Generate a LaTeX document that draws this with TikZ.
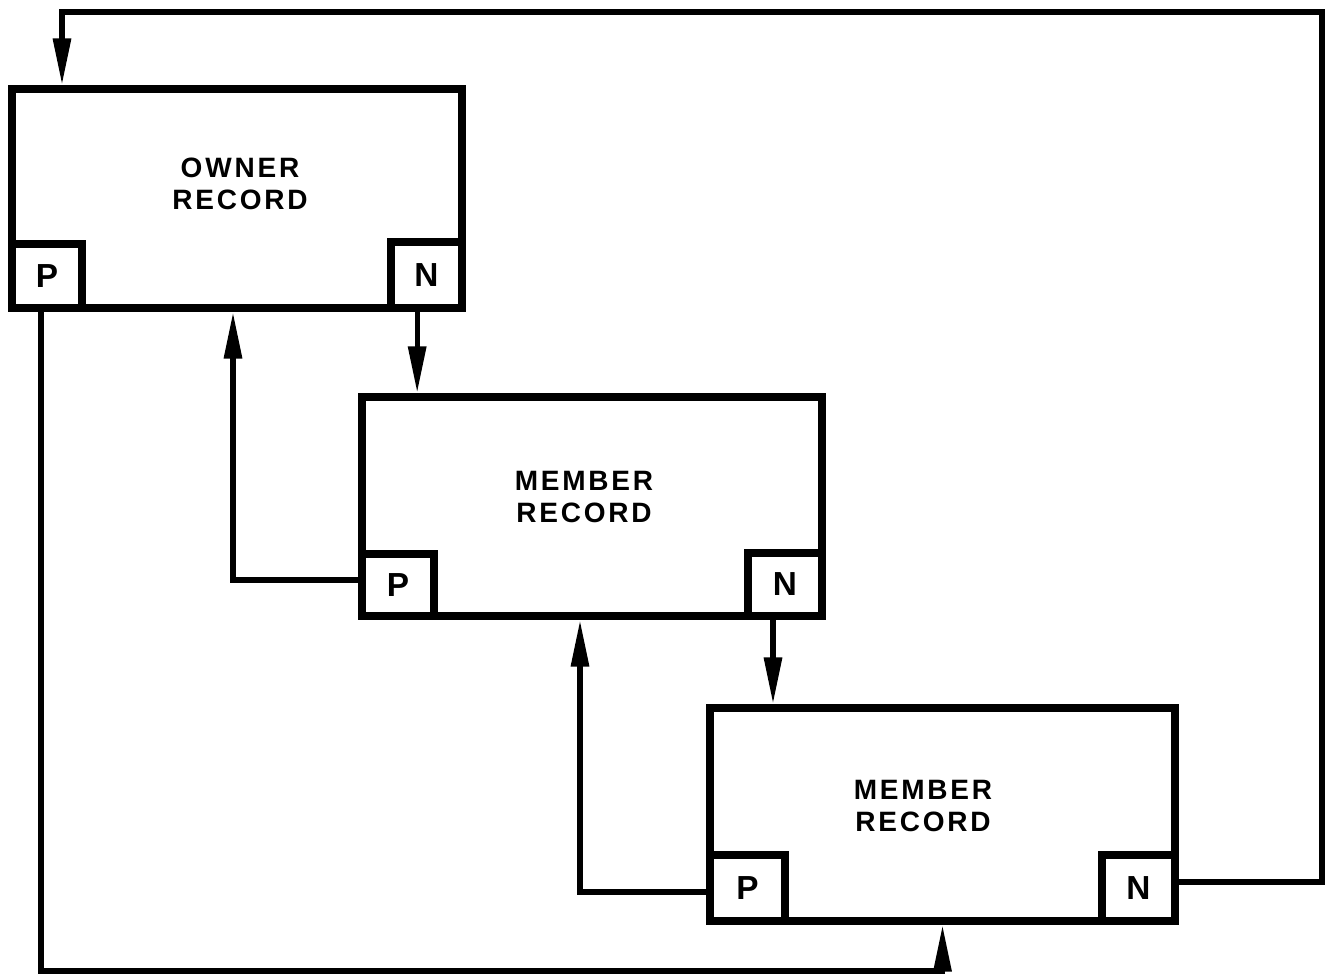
\documentclass[tikz,border=0pt]{standalone}
\usepackage{fontspec}
\setmainfont{Liberation Sans}
\newfontfamily\lblfont[LetterSpace=10]{Liberation Sans}
\usetikzlibrary{arrows.meta}
\tikzset{
  recbox/.style={draw, line width=6pt, rectangle, inner sep=0pt},
  ptrbox/.style={draw, line width=6pt, rectangle, inner sep=0pt, fill=white,
    font=\bfseries\fontsize{25}{26}\selectfont},
  rectext/.style={align=center, inner sep=0pt, font=\lblfont\bfseries\fontsize{21}{24}\selectfont},
  conn/.style={line width=4pt, -{Triangle[length=35pt,width=13pt]}}
}
\begin{document}
\begin{tikzpicture}[x=0.75pt,y=-0.75pt]
\useasboundingbox (0,0) rectangle (1325,977);
% owner record
\node[recbox, minimum width=450*0.75pt, minimum height=219*0.75pt] (owner) at (237,198.5) {};
\node[ptrbox, minimum width=70*0.75pt, minimum height=64*0.75pt] (ownerp) at (47,276) {P};
\node[ptrbox, minimum width=71*0.75pt, minimum height=66*0.75pt] (ownern) at (426.5,275) {N};
\node[rectext] (ownert) at (240,184) {OWNER\\RECORD};
% member 1
\node[recbox, minimum width=460*0.75pt, minimum height=219*0.75pt] (m1) at (592,506.5) {};
\node[ptrbox, minimum width=72*0.75pt, minimum height=62*0.75pt] (m1p) at (398,585) {P};
\node[ptrbox, minimum width=74*0.75pt, minimum height=63*0.75pt] (m1n) at (785,584.5) {N};
\node[rectext] (m1t) at (584,497) {MEMBER\\RECORD};
% member 2
\node[recbox, minimum width=465*0.75pt, minimum height=213*0.75pt] (m2) at (942.5,814.5) {};
\node[ptrbox, minimum width=75*0.75pt, minimum height=66*0.75pt] (m2p) at (747.5,888) {P};
\node[ptrbox, minimum width=73*0.75pt, minimum height=66*0.75pt] (m2n) at (1138.5,888) {N};
\node[rectext] (m2t) at (923,806) {MEMBER\\RECORD};
% corner of the outer loop
\coordinate (ne) at (1322,12);
% connectors
\draw[conn] ([yshift=4.5pt]m2n.east) -| (ne) -| ([xshift=40.5pt]owner.north west);
\draw[conn] ([xshift=-7pt]ownern.south) -- ([xshift=-7pt]ownern.south |- m1.north);
\draw[conn] ([yshift=3.75pt]m1p.west) -| ([xshift=-3pt]owner.south);
\draw[conn] ([xshift=-9pt]m1n.south) -- ([xshift=-9pt]m1n.south |- m2.north);
\draw[conn] ([yshift=-3pt]m2p.west) -| ([xshift=-9pt]m1.south);
\draw[conn] ([xshift=-4.5pt]ownerp.south) -- ++(0,659) -| (m2.south);
\end{tikzpicture}
\end{document}
